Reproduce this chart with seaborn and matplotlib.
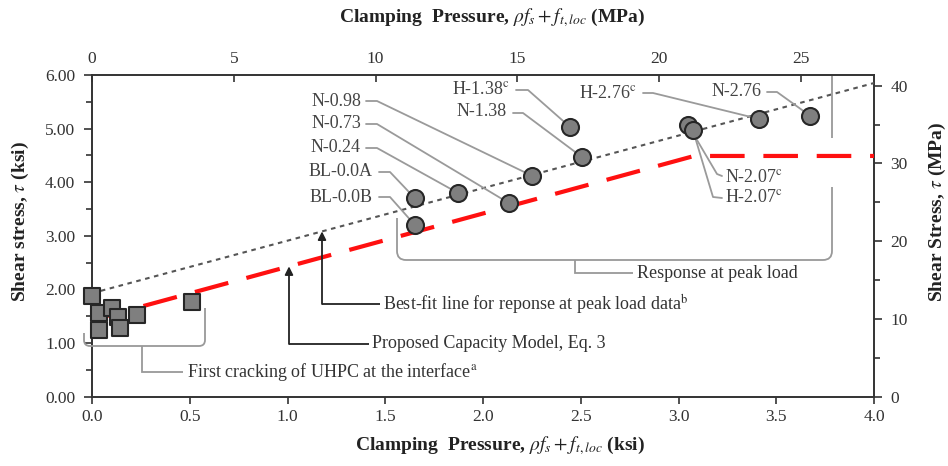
import numpy as np
import pandas as pd
import matplotlib
matplotlib.use("Agg")
import matplotlib.pyplot as plt
import matplotlib.transforms as mtransforms
from matplotlib.path import Path
from matplotlib.patches import PathPatch
from matplotlib.ticker import MultipleLocator, FormatStrFormatter
import seaborn as sns

# ---------------- data ----------------
peak_names = ["BL-0.0A", "BL-0.0B", "N-0.24", "N-0.73", "N-0.98", "N-1.38",
              "H-1.38", "N-2.07", "H-2.07", "H-2.76", "N-2.76"]
peak_x = [1.652, 1.652, 1.872, 2.133, 2.251, 2.506, 2.445, 3.049, 3.074, 3.412, 3.673]
peak_y = [3.70, 3.20, 3.80, 3.61, 4.12, 4.47, 5.03, 5.07, 4.97, 5.18, 5.24]
peak_sup = ["", "", "", "", "", "", "c", "c", "c", "c", ""]

crack_x = [0.00, 0.036, 0.036, 0.10, 0.135, 0.143, 0.229, 0.51]
crack_y = [1.88, 1.56, 1.24, 1.65, 1.49, 1.29, 1.52, 1.77]

fit_x = [0.0, 4.0]
fit_y = [1.93, 5.85]

model_x = [0.0, 3.08, 4.0]
model_y = [1.43, 4.49, 4.49]

KSI_TO_MPA = 6.895
x_ticks = [0.0, 0.5, 1.0, 1.5, 2.0, 2.5, 3.0, 3.5, 4.0]
y_ticks = [0, 1, 2, 3, 4, 5, 6]
top_ticks = [0, 5, 10, 15, 20, 25]
right_ticks = [0, 10, 20, 30, 40]

# ---------------- style ----------------
sns.set_style("ticks")
plt.rcParams["font.family"] = ["Liberation Serif", "DejaVu Serif"]
plt.rcParams["mathtext.fontset"] = "stix"

W, H = 948, 466
fig = plt.figure(figsize=(W / 100, H / 100), dpi=100)
L, R, T, B = 92, 874, 75, 396.7
ax = fig.add_axes([L / W, 1 - B / H, (R - L) / W, (B - T) / H])
ax.set_xlim(0, 4)
ax.set_ylim(0, 6)

dark = "#333333"
for s in ax.spines.values():
    s.set_color(dark)
    s.set_linewidth(1.4)

# lines
sns.lineplot(x=model_x, y=model_y, ax=ax, color="#ff1010", lw=3.0,
             linestyle=(0, (8.3, 4.5)), zorder=3, sort=False)
sns.lineplot(x=fit_x, y=fit_y, ax=ax, color="#555555", lw=1.5,
             linestyle=(0, (2.2, 2.2)), zorder=3, sort=False)

# points
sns.scatterplot(x=peak_x, y=peak_y, ax=ax, marker="o", s=150, color="#7f7f7f",
                edgecolor="#262626", linewidth=1.5, zorder=6)
sns.scatterplot(x=crack_x, y=crack_y, ax=ax, marker="s", s=125, color="#7f7f7f",
                edgecolor="#262626", linewidth=1.5, zorder=6, clip_on=False)

# ticks
ax.set_xticks(x_ticks)
ax.xaxis.set_major_formatter(FormatStrFormatter("%.1f"))
ax.set_yticks(y_ticks)
ax.yaxis.set_major_formatter(FormatStrFormatter("%.2f"))
ax.yaxis.set_minor_locator(MultipleLocator(0.5))
ax.tick_params(axis="both", which="both", labelsize=12.5, colors=dark,
               labelcolor="#333333")
ax.tick_params(axis="x", which="major", direction="out", length=5, width=1.2, pad=4)
ax.tick_params(axis="y", which="major", direction="out", length=6, width=1.2, pad=6)
ax.tick_params(axis="y", which="minor", direction="out", length=4, width=1.2)

top = ax.secondary_xaxis("top", functions=(lambda v: v * KSI_TO_MPA, lambda v: v / KSI_TO_MPA))
top.set_xticks(top_ticks)
top.tick_params(direction="in", length=5, width=1.2, labelsize=12.5, pad=6,
                colors=dark, labelcolor="#333333")
top.spines["top"].set_visible(False)

right = ax.secondary_yaxis("right", functions=(lambda v: v * KSI_TO_MPA, lambda v: v / KSI_TO_MPA))
right.set_yticks(right_ticks)
right.yaxis.set_minor_locator(MultipleLocator(5))
right.tick_params(which="major", direction="out", length=6, width=1.2, labelsize=12.5,
                  pad=6, colors=dark, labelcolor="#333333")
right.tick_params(which="minor", direction="out", length=4, width=1.2, colors=dark)
right.spines["right"].set_visible(False)

# axis titles
fig.text(492 / W, 1 - 18 / H, r"Clamping  Pressure, $\rho f_s + f_{t,loc}$ (MPa)",
         ha="center", va="center", fontsize=14, fontweight="bold", color="#222")
fig.text(500 / W, 1 - 446 / H, r"Clamping  Pressure, $\rho f_s + f_{t,loc}$ (ksi)",
         ha="center", va="center", fontsize=14, fontweight="bold", color="#222")
fig.text(20 / W, 1 - 222 / H, r"Shear stress, $\tau$ (ksi)", rotation=90,
         ha="center", va="center", fontsize=14, fontweight="bold", color="#222")
fig.text(937 / W, 1 - 212 / H, r"Shear Stress, $\tau$ (MPa)", rotation=90,
         ha="center", va="center", fontsize=14, fontweight="bold", color="#222")

# ---------------- annotations ----------------
pix = mtransforms.Affine2D().scale(1, -1).translate(0, H)


def p2d(px, py):
    return ax.transData.inverted().transform((px, H - py))


def rounded_path(points, r):
    pts = [np.array(p, float) for p in points]
    verts = [pts[0]]
    codes = [Path.MOVETO]
    for i in range(1, len(pts) - 1):
        p0, p1, p2 = pts[i - 1], pts[i], pts[i + 1]
        d1 = (p1 - p0) / np.linalg.norm(p1 - p0)
        d2 = (p2 - p1) / np.linalg.norm(p2 - p1)
        verts += [p1 - d1 * r, p1, p1 + d2 * r]
        codes += [Path.LINETO, Path.CURVE3, Path.CURVE3]
    verts.append(pts[-1])
    codes.append(Path.LINETO)
    return Path(verts, codes)


def draw_px(points, r=0, color="#999999", lw=1.3):
    patch = PathPatch(rounded_path(points, r), fill=False, edgecolor=color, lw=lw,
                      transform=pix, clip_on=False, zorder=2)
    fig.add_artist(patch)


def text_px(px, py, s, ha="left", size=13, color="#333333"):
    fig.text(px / W, 1 - py / H, s, ha=ha, va="center", fontsize=size, color=color)


# labels for peak points: (text x px, text y px, align, leader path px)
label_layout = {
    "H-1.38": (510, 90, "right", [(516, 90), (528, 90)]),
    "N-1.38": (507, 112, "right", [(513, 113), (523, 113)]),
    "N-0.98": (361, 101, "right", [(366, 101), (377, 101)]),
    "N-0.73": (361, 124, "right", [(366, 124), (377, 124)]),
    "N-0.24": (361, 148, "right", [(366, 148), (377, 148)]),
    "BL-0.0A": (373, 172, "right", [(379, 172), (390, 172)]),
    "BL-0.0B": (373, 197, "right", [(379, 197), (390, 197)]),
    "H-2.76": (637, 93, "right", [(643, 93), (653, 93)]),
    "N-2.76": (762, 92, "right", [(767, 92), (777, 92)]),
    "N-2.07": (725, 177, "left", [(722, 176), (717, 174)]),
    "H-2.07": (725, 198, "left", [(722, 198), (713, 197)]),
}
for name, px_, py_, sup in zip(peak_names, peak_x, peak_y, peak_sup):
    tx, ty, ha, lead = label_layout[name]
    txt = name + (r"$^{\mathrm{%s}}$" % sup if sup else "")
    text_px(tx, ty, txt, ha=ha, color="#444444")
    xs = [p2d(*p)[0] for p in lead] + [px_]
    ys = [p2d(*p)[1] for p in lead] + [py_]
    ax.plot(xs, ys, color="#9a9a9a", lw=1.3, zorder=4, clip_on=False)

# first-cracking bracket
draw_px([(84, 333), (84, 346), (205, 346), (205, 308)], r=6)
draw_px([(142, 346), (142, 372), (183, 372)])
text_px(187, 372, r"First cracking of UHPC at the interface$^{\mathrm{a}}$")

# peak-load bracket
draw_px([(397, 218), (397, 260), (832, 260), (832, 187)], r=9)
draw_px([(832, 138), (832, 76)])
draw_px([(575, 260), (575, 273), (633, 273)])
text_px(637, 273, "Response at peak load")

# best-fit arrow
bx, by = p2d(322, 304)
fy = np.interp(bx, fit_x, fit_y)
ax.annotate("", xy=(bx, fy), xytext=(bx, by),
            arrowprops=dict(arrowstyle="-|>", color="#222", lw=1.3,
                            shrinkA=0, shrinkB=0, mutation_scale=12), zorder=5)
draw_px([(322, 304), (380, 304)], color="#222222")
text_px(383, 304, r"Best-fit line for reponse at peak load data$^{\mathrm{b}}$")

# capacity model arrow
cx, cy = p2d(289, 344)
my = np.interp(cx, model_x, model_y)
ax.annotate("", xy=(cx, my), xytext=(cx, cy),
            arrowprops=dict(arrowstyle="-|>", color="#222", lw=1.3,
                            shrinkA=0, shrinkB=0, mutation_scale=12), zorder=5)
draw_px([(289, 344), (369, 344)], color="#222222")
text_px(372, 344, "Proposed Capacity Model, Eq. 3")

fig.savefig("out.png", dpi=100)
